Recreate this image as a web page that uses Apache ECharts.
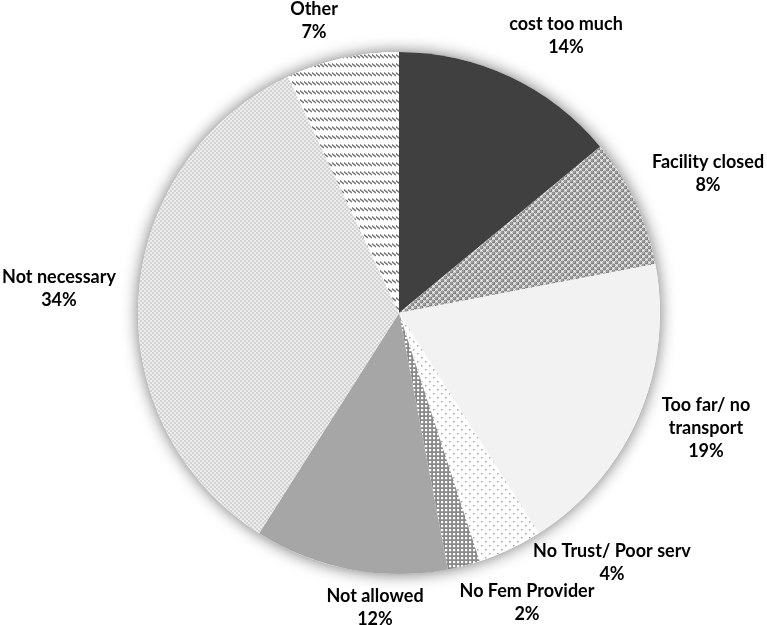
<!DOCTYPE html>
<html>
<head>
<meta charset="utf-8">
<script src="https://cdn.jsdelivr.net/npm/echarts@6/dist/echarts.min.js"></script>
<style>
  html, body { margin: 0; padding: 0; background: #fff; }
  #reasons-pie { width: 767px; height: 625px; }
</style>
</head>
<body>
<div id="reasons-pie"></div>
<script>
// data (clockwise from 12 o'clock)
const categories = ['cost too much', 'Facility closed', 'Too far/ no\ntransport', 'No Trust/ Poor serv',
  'No Fem Provider', 'Not allowed', 'Not necessary', 'Other']
const shares = [14, 8, 19, 4, 2, 12, 34, 7]

// where each label sits (centre of the text block, px)
const labelSpots = [[566, 36], [708, 174], [706, 428], [612, 563], [527, 603], [375, 608], [59, 289], [314, 21]]

function makeTile (w, h, draw) {
  const c = document.createElement('canvas')
  c.width = w
  c.height = h
  const ctx = c.getContext('2d')
  ctx.fillStyle = '#fff'
  ctx.fillRect(0, 0, w, h)
  draw(ctx)
  return { image: c, repeat: 'repeat' }
}

function ball (ctx, x, y, r) {
  const g = ctx.createRadialGradient(x - 0.6, y - 0.6, 0.2, x, y, r)
  g.addColorStop(0, '#b4b4b4')
  g.addColorStop(1, '#6a6a6a')
  ctx.fillStyle = g
  ctx.beginPath()
  ctx.arc(x, y, r, 0, Math.PI * 2)
  ctx.fill()
}

const fills = [
  '#404040',
  // balls
  makeTile(6, 6, ctx => {
    const r = 1.9
    ;[[1.5, 1.5], [4.5, 4.5], [7.5, 1.5], [-1.5, 4.5], [1.5, 7.5], [4.5, -1.5]].forEach(p => ball(ctx, p[0], p[1], r))
  }),
  '#f2f2f2',
  // sparse dots
  makeTile(8, 8, ctx => {
    ctx.fillStyle = '#a8a8a8'
    ctx.fillRect(1, 1, 1.5, 1.5)
    ctx.fillRect(5, 5, 1.5, 1.5)
  }),
  // grid
  makeTile(4, 4, ctx => {
    ctx.fillStyle = '#8a8a8a'
    ctx.fillRect(0, 0, 4, 4)
    ctx.fillStyle = '#fff'
    ctx.fillRect(1, 1, 2.2, 2.2)
  }),
  '#a6a6a6',
  // fine checker
  makeTile(4, 4, ctx => {
    ctx.fillStyle = '#ededed'
    ctx.fillRect(0, 0, 4, 4)
    ctx.fillStyle = '#d3d3d3'
    ctx.fillRect(0, 0, 2, 2)
    ctx.fillRect(2, 2, 2, 2)
  }),
  // rows of short downward diagonals
  makeTile(4, 9, ctx => {
    ctx.strokeStyle = '#767676'
    ctx.lineWidth = 1.5
    ctx.beginPath()
    ctx.moveTo(-1, 0)
    ctx.lineTo(4, 4)
    ctx.stroke()
  })
]

const pieData = categories.map((name, i) => ({
  name: name,
  value: shares[i],
  itemStyle: { color: fills[i] }
}))

const total = shares.reduce((a, b) => a + b, 0)

const option = {
  backgroundColor: '#fff',
  animation: false,
  series: [
    {
      // backing disc that only casts the soft shadow
      type: 'pie',
      silent: true,
      center: [399, 313],
      radius: 261,
      z: 1,
      label: { show: false },
      labelLine: { show: false },
      data: [{ value: total, itemStyle: { color: '#fff', shadowBlur: 16, shadowColor: 'rgba(0,0,0,0.55)' } }]
    },
    {
      type: 'pie',
      center: [399, 313],
      radius: 261,
      startAngle: 90,
      clockwise: true,
      z: 2,
      avoidLabelOverlap: false,
      itemStyle: { borderWidth: 0 },
      label: {
        show: true,
        position: 'outside',
        formatter: '{b}\n{d}%',
        fontFamily: 'Lato',
        fontWeight: 'bold',
        fontSize: 18,
        lineHeight: 23,
        color: '#000',
        align: 'center'
      },
      labelLine: { show: false },
      labelLayout: function (params) {
        const spot = labelSpots[params.dataIndex]
        return { x: spot[0], y: spot[1], align: 'center', verticalAlign: 'middle' }
      },
      data: pieData
    }
  ]
}

const chart = echarts.init(document.getElementById('reasons-pie'))
chart.setOption(option)
</script>
</body>
</html>
